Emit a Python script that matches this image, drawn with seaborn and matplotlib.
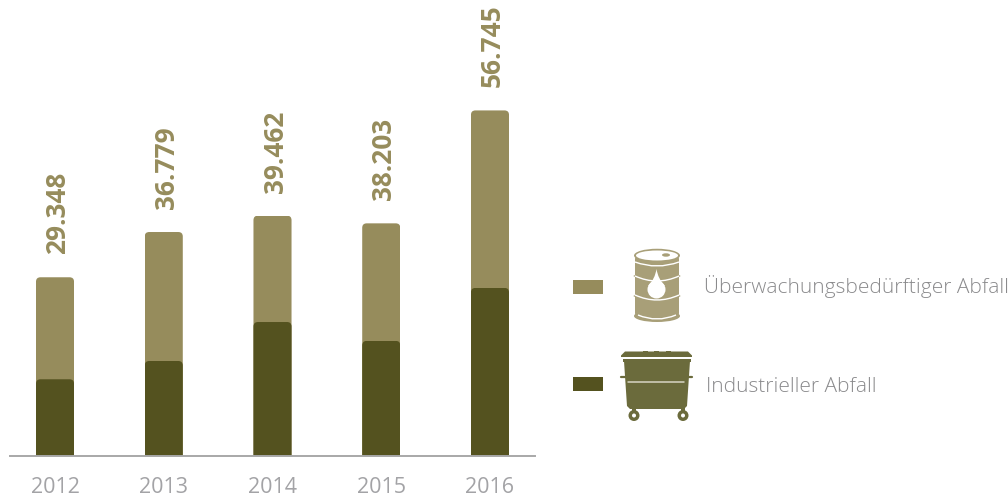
import matplotlib
matplotlib.use("Agg")
import matplotlib.pyplot as plt
import pandas as pd
import seaborn as sns
from matplotlib.patches import Ellipse, Polygon, Rectangle, Circle, FancyBboxPatch, PathPatch
from matplotlib.path import Path

years = ["2012", "2013", "2014", "2015", "2016"]
total_values = [29.348, 36.779, 39.462, 38.203, 56.745]
total_labels = ["29.348", "36.779", "39.462", "38.203", "56.745"]
industrial_values = [12.6, 15.6, 22.0, 18.9, 27.6]
legend_labels = ["Überwachungsbedürftiger Abfall", "Industrieller Abfall"]

LIGHT = "#968C5C"
DARK = "#54521F"
BARREL = "#A89F78"
BIN = "#6B6B3C"
GREY = "#A3A3A6"
LEGEND_TEXT = "#8A8A8C"
W, H = 1008, 499

sns.set_theme(style="white")
plt.rcParams["font.family"] = ["Open Sans", "DejaVu Sans"]

fig = plt.figure(figsize=(W / 100, H / 100), dpi=100)
ax = fig.add_axes([10 / W, 1 - 456 / H, 525 / W, 456 / H])

df = pd.DataFrame({"year": years, "total": total_values, "industrial": industrial_values})
sns.barplot(data=df, x="year", y="total", color=LIGHT, saturation=1, width=0.35, linewidth=0, ax=ax)
sns.barplot(data=df, x="year", y="industrial", color=DARK, saturation=1, width=0.35, linewidth=0, ax=ax)

ax.set_xlim(-0.414, 4.414)
ax.set_ylim(0, 456 / 6.09)
x_per_px = 4.828 / 525
y_per_px = (456 / 6.09) / 456


def round_top(bar, r=4.5):
    """Clip a bar so its two upper corners are rounded."""
    x0, w, h = bar.get_x(), bar.get_width(), bar.get_height()
    rx, ry = r * x_per_px, r * y_per_px
    x1 = x0 + w
    verts = [(x0, 0), (x0, h - ry), (x0, h), (x0 + rx, h), (x1 - rx, h), (x1, h), (x1, h - ry), (x1, 0), (x0, 0)]
    codes = [Path.MOVETO, Path.LINETO, Path.CURVE3, Path.CURVE3, Path.LINETO, Path.CURVE3, Path.CURVE3, Path.LINETO, Path.CLOSEPOLY]
    clip = PathPatch(Path(verts, codes), transform=ax.transData)
    bar.set_clip_path(clip)


for bar in ax.patches:
    round_top(bar)

for i, (value, label) in enumerate(zip(total_values, total_labels)):
    ax.annotate(label, (i, value), xytext=(2.5, 23), textcoords="offset pixels",
                rotation=90, ha="center", va="bottom", color=LIGHT,
                fontsize=18.9, fontweight="bold", annotation_clip=False)

sns.despine(ax=ax, left=True, top=True, right=True)
ax.spines["bottom"].set_color("#A8A8A8")
ax.spines["bottom"].set_linewidth(1.4)
ax.set_xlabel("")
ax.set_ylabel("")
ax.set_yticks([])
ax.tick_params(axis="x", length=0, pad=15, labelsize=15.5, labelcolor=GREY)
ax.patch.set_alpha(0)

# Overlay in pixel coordinates for the legend and its pictograms
ov = fig.add_axes([0, 0, 1, 1], zorder=5)
ov.set_xlim(0, W)
ov.set_ylim(H, 0)
ov.axis("off")

ov.add_patch(Rectangle((573, 280), 30, 14, color=LIGHT, lw=0))
ov.add_patch(Rectangle((573, 377), 30, 14, color=DARK, lw=0))
ov.text(704, 287, legend_labels[0], color=LEGEND_TEXT, fontsize=15, fontweight="light", va="center", ha="left")
ov.text(706, 386.5, legend_labels[1], color=LEGEND_TEXT, fontsize=15, fontweight="light", va="center", ha="left")


def arc(x0, x1, y_edge, y_mid, lw=1.0):
    """Thin white rib curving down across the barrel."""
    ov.add_patch(PathPatch(Path([(x0, y_edge), ((x0 + x1) / 2, 2 * y_mid - y_edge), (x1, y_edge)],
                                [Path.MOVETO, Path.CURVE3, Path.CURVE3]),
                           fc="none", ec="white", lw=lw))


# Oil barrel
ov.add_patch(FancyBboxPatch((635, 256), 44, 60, boxstyle="round,pad=0,rounding_size=3", color=BARREL, lw=0))
ov.add_patch(Ellipse((657, 316), 46, 12, color=BARREL, lw=0))
for y in (276, 296):
    ov.add_patch(Ellipse((657, y), 47, 5, color=BARREL, lw=0))
arc(635, 679, 262, 266)
arc(635, 679, 276, 281)
arc(635, 679, 295, 300)
arc(638, 676, 315, 319)
ov.add_patch(Ellipse((657, 255.5), 46, 13.5, color=BARREL, lw=0))
ov.add_patch(Ellipse((657, 255.5), 42, 10, color="white", lw=0))
ov.add_patch(Ellipse((666, 255), 8, 3.4, color=BARREL, lw=0))
# Drop on the barrel
ov.add_patch(Circle((656.5, 289.5), 9, color="white", lw=0))
ov.add_patch(PathPatch(Path([(656.5, 269), (655, 279), (648, 286), (665, 286), (658, 279), (656.5, 269)],
                            [Path.MOVETO, Path.CURVE3, Path.CURVE3, Path.LINETO, Path.CURVE3, Path.CURVE3]),
                       fc="white", ec="none"))

# Wheeled container
ov.add_patch(Polygon([(621, 357), (621, 355.5), (625, 351.5), (688, 351.5), (692, 355.5), (692, 357)], closed=True, color=BIN, lw=0))
for x in (645, 656, 668):
    ov.add_patch(Rectangle((x - 2.5, 350.5), 5, 1.5, color=BIN, lw=0))
ov.add_patch(Rectangle((622.5, 359), 68, 3, color=BIN, lw=0))
ov.add_patch(Polygon([(624, 361), (690, 361), (687, 406), (684, 409), (630, 409), (627, 406)], closed=True, color=BIN, lw=0))
ov.plot([621, 692], [377, 377], color=BIN, lw=1.6)
ov.plot([628, 684], [382, 382], color="#D8D6C4", lw=1.1)
for x in (634, 683):
    ov.add_patch(Rectangle((x - 2, 408), 4, 4, color=BIN, lw=0))
    ov.add_patch(Circle((x, 415.5), 5.5, color=BIN, lw=0))
    ov.add_patch(Circle((x, 415.5), 2.0, color="white", lw=0))

fig.savefig("out.png", dpi=100)
